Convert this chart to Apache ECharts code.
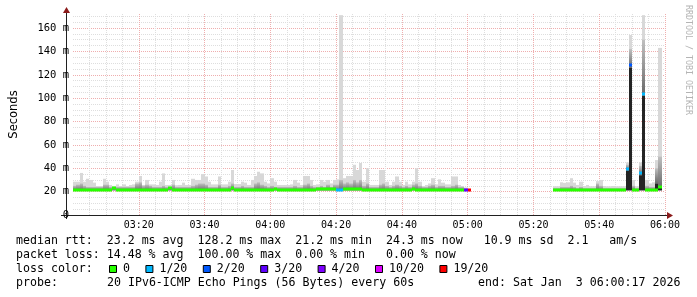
<!DOCTYPE html>
<html><head><meta charset="utf-8">
<script src="https://cdn.jsdelivr.net/npm/echarts@6/dist/echarts.min.js"></script>
<style>html,body{margin:0;padding:0;background:#fff}#c{width:697px;height:297px}</style>
</head><body><div id="c"></div>
<script>
// time of step index 0, in minutes since midnight (03:00); one step = 1 minute
const stepStart = 180;
const xTickLabels = ['03:00','03:20','03:40','04:00','04:20','04:40','05:00','05:20','05:40','06:00'];
const yTickLabels = ['0','20 m','40 m','60 m','80 m','100 m','120 m','140 m','160 m'];

// median rtt (ms) per minute
const median = [
21.8,21.8,21.8,21.8,21.8,21.8,21.8,21.8,21.8,21.8,21.8,21.8,22.8,21.8,21.8,21.8,21.8,21.8,21.8,21.8,
21.8,21.8,21.2,21.2,21.2,21.8,21.8,21.8,21.8,22.8,21.8,21.8,21.8,21.8,21.8,21.8,21.8,21.8,21.8,21.8,
21.8,21.8,21.8,21.8,21.2,21.8,21.8,21.8,22.8,21.8,21.8,21.8,21.2,21.8,21.8,21.8,21.8,21.8,21.8,21.8,
21.8,22.6,21.2,21.2,21.8,21.8,21.8,21.8,21.8,21.8,21.8,21.2,21.2,21.8,22.6,22.6,22.6,22.6,22.6,22.6,
21.4,21.4,22.6,22.6,22.6,22.6,22.6,22.6,21.8,21.8,21.8,21.8,21.8,21.8,21.8,21.8,21.8,21.8,21.8,21.8,
21.8,21.8,21.8,22.6,21.8,21.8,21.8,21.8,21.8,21.8,21.8,21.8,21.8,21.8,21.8,21.8,21.8,21.8,21.8,21.8,
21.8,null,null,null,null,null,null,null,null,null,null,null,null,null,null,null,null,null,null,null,
null,null,null,null,null,null,21.8,21.8,21.8,21.8,21.8,21.8,21.8,21.8,21.8,21.8,21.8,21.8,21.8,21.8,
21.8,21.8,21.8,21.8,21.8,21.8,21.8,21.8,39,128.2,21.8,21.8,36,103.5,21.8,21.8,21.2,21.2,24.3,null
];
// lost pings out of 20 per minute
const loss = [
0,0,0,0,0,0,0,0,0,0,0,0,0,0,0,0,0,0,0,0,
0,0,0,0,0,0,0,0,0,0,0,0,0,0,0,0,0,0,0,0,
0,0,0,0,0,0,0,0,0,0,0,0,0,0,0,0,0,0,0,0,
0,0,0,0,0,0,0,0,0,0,0,0,0,0,0,0,0,0,0,0,
1,1,0,0,0,0,0,0,0,0,0,0,0,0,0,0,0,0,0,0,
0,0,0,0,0,0,0,0,0,0,0,0,0,0,0,0,0,0,0,3,
19,null,null,null,null,null,null,null,null,null,null,null,null,null,null,null,null,null,null,null,
null,null,null,null,null,null,0,0,0,0,0,0,0,0,0,0,0,0,0,0,
0,0,0,0,0,0,0,0,1,2,0,0,1,1,0,0,0,0,0,null
];
// smoke: lowest ping (ms)
const smokeLow = [
21,21,21,21,21,21,21,21,21,21,21,21,21,21,21,21,21,21,21,21,
21,21,21,21,21,21,21,21,21,21,21,21,21,21,21,21,21,21,21,21,
21,21,21,21,21,21,21,21,21,21,21,21,21,21,21,21,21,21,21,21,
21,21,21,21,21,21,21,21,21,21,21,21,21,21,21,21,21,21,21,21,
21,21,21,21,21,21,21,21,21,21,21,21,21,21,21,21,21,21,21,21,
21,21,21,21,21,21,21,21,21,21,21,21,21,21,21,21,21,21,21,21,
null,null,null,null,null,null,null,null,null,null,null,null,null,null,null,null,null,null,null,null,
null,null,null,null,null,null,21,21,21,21,21,21,21,21,21,21,21,21,21,21,
21,21,21,21,21,21,21,21,21,21,21,21,21,21,21,21,21,21,21,null
];
// smoke: top of the dense (black) core (ms)
const smokeDark = [
null,null,null,null,null,null,null,null,null,null,null,null,null,null,null,null,null,null,null,null,
null,null,null,null,null,null,null,null,null,null,null,null,null,null,null,null,null,null,null,null,
null,null,null,null,null,null,null,null,null,null,null,null,null,null,null,null,null,null,null,null,
null,null,null,null,null,null,null,null,null,null,null,null,null,null,null,null,null,null,null,null,
null,null,null,null,null,null,null,null,null,null,null,null,null,null,null,null,null,null,null,null,
null,null,null,null,null,null,null,null,null,null,null,null,null,null,null,null,null,null,null,null,
null,null,null,null,null,null,null,null,null,null,null,null,null,null,null,null,null,null,null,null,
null,null,null,null,null,null,null,null,null,null,null,null,null,null,null,null,null,null,null,null,
null,null,null,null,null,null,null,null,38,126,null,null,34,102,null,null,null,27,23.5,null
];
// smoke: top of the medium grey band (ms)
const smokeMid = [
25,26,27,25,24,24,24,24,24,26,26,24,24,24,24,24,24,24,24,27,
28,25,26,25,24,24,24,25,24,24,26,24,24,24,24,24,25,26,27,27,
26,24,24,24,26,24,24,25,27,24,24,25,24,24,24,27,28,26,25,24,
25,24,24,24,24,24,24,25,24,24,26,27,25,24,24,25,24,26,24,26,
26,30,27,28,27,30,28,30,25,27,24,24,24,26,27,25,24,25,26,25,
24,25,24,26,27,25,24,24,25,26,24,25,25,24,24,25,26,24,24,23,
null,null,null,null,null,null,null,null,null,null,null,null,null,null,null,null,null,null,null,null,
null,null,null,null,null,null,23,23,24,24,24,25,24,23,24,23,23,23,23,27,
25,23,23,23,23,23,23,23,43,142,25,23,42,150,25,24,24,40,50,null
];
// smoke: highest ping (ms)
const smokeTop = [
28.5,28.5,36,28.5,31,30,27.7,24.8,24.8,31,28.5,25.7,24.8,26.2,24.8,26.2,24.8,25.7,26.2,28.5,
33.4,25.7,30,26.2,26.2,25.7,28.5,35.6,25.7,25.7,30,25.5,25.7,27.7,25.7,25.7,31,30,30,35,
33,28.5,26.2,26.2,33,26.2,26.2,28.5,38.5,26.5,26.5,28.5,27.7,25.7,30,33.4,37,35.6,28.5,27,
31.5,28.5,25.7,25.7,25.7,25.7,26.2,30,27.7,25.7,33.4,33.4,30,25.7,26.2,30,28.5,30,27,30,
30.5,171,31.5,33.4,33.4,43,38.5,44.5,28.5,40,25.7,25.7,25.7,38.5,38.5,28.5,25.7,28.5,33,28.5,
25.7,28.5,26.2,28.5,40,28.5,24.8,25.7,27,31.5,26.2,30.5,27.7,26.2,26.2,33,33,25.7,24.8,23.5,
null,null,null,null,null,null,null,null,null,null,null,null,null,null,null,null,null,null,null,null,
null,null,null,null,null,null,24.6,24.6,28,27.5,28,31.5,27.7,25.7,28.5,24.8,25.7,24.6,24.6,29,
30,24.8,24.6,24.6,24.8,24.6,24.6,24.6,45,154,30,24.6,45,171,30,27,28,47,143,null
];

const lossLevels = [0,1,2,3,4,10,19];
const lossLabels = ['0','1/20','2/20','3/20','4/20','10/20','19/20'];
const lossColors = ['#26ff00','#00b8ff','#0059ff','#5e00ff','#7e00ff','#dd00ff','#ff0000'];
const statsRows = [
  'median rtt:  23.2 ms avg  128.2 ms max  21.2 ms min  24.3 ms now   10.9 ms sd  2.1   am/s',
  'packet loss: 14.48 % avg  100.00 % max  0.00 % min   0.00 % now'
];
const lossTitle = 'loss color:';
const probeTitle = 'probe:';
const probeText = '20 IPv6-ICMP Echo Pings (56 Bytes) every 60s';
const endText = 'end: Sat Jan  3 06:00:17 2026';
const watermark = 'RRDTOOL / TOBI OETIKER';

function lossColor(n) {
  let c = lossColors[0];
  for (let k = 0; k < lossLevels.length; k++) if (n >= lossLevels[k]) c = lossColors[k];
  return c;
}

const MONO = 'DejaVu Sans Mono';
const chart = echarts.init(document.getElementById('c'), null, {renderer: 'canvas'});

const seriesData = [];
median.forEach((m, i) => { if (m != null) seriesData.push([stepStart + i, i, m]); });

function renderItem(params, api) {
  const t = api.value(0), i = api.value(1);
  const xL = Math.round(api.coord([t, 0])[0]);
  const xR = Math.round(api.coord([t + 1, 0])[0]);
  const w = xR - xL;
  const yOf = v => api.coord([t, v])[1];
  const kids = [];
  const lo = smokeLow[i];
  if (smokeTop[i] != null && lo != null) {
    kids.push({type: 'rect', shape: {x: xL, y: yOf(smokeTop[i]), width: w, height: yOf(lo) - yOf(smokeTop[i])},
      style: {fill: '#d8d8d8'}});
  }
  if (smokeMid[i] != null && lo != null) {
    const base = smokeDark[i] != null ? smokeDark[i] : lo;
    kids.push({type: 'rect', shape: {x: xL, y: yOf(smokeMid[i]), width: w, height: yOf(base) - yOf(smokeMid[i])},
      style: {fill: new echarts.graphic.LinearGradient(0, 0, 0, 1, [
        {offset: 0, color: '#c0c0c0'}, {offset: 1, color: '#686868'}])}});
  }
  if (smokeDark[i] != null && lo != null) {
    kids.push({type: 'rect', shape: {x: xL, y: yOf(smokeDark[i]), width: w, height: yOf(lo) - yOf(smokeDark[i])},
      style: {fill: '#242424'}});
  }
  const ym = yOf(median[i]);
  kids.push({type: 'rect', shape: {x: xL, y: Math.round(ym) - 1.5, width: w, height: 3},
    style: {fill: lossColor(loss[i])}});
  return {type: 'group', children: kids};
}

// legend graphics
const gfx = [];
const rowY = [241, 255, 269, 283];
const txt = (s, x, y) => ({type: 'text', x: x, y: y,
  style: {text: s, font: '11.6px ' + MONO, fill: '#000', align: 'left', verticalAlign: 'middle', textAlign: 'left', textVerticalAlign: 'middle'}});
statsRows.forEach((s, r) => gfx.push(txt(s, 16, rowY[r])));
gfx.push(txt(lossTitle, 16, rowY[2]));
let lx = 123;
lossLabels.forEach((lab, k) => {
  gfx.push({type: 'rect', shape: {x: lx - 13.5, y: rowY[2] - 3.5, width: 7, height: 7},
    style: {fill: lossColors[k], stroke: '#000', lineWidth: 1}});
  gfx.push(txt(lab, lx, rowY[2]));
  lx += (lab.length + 4.2) * 7;
});
gfx.push(txt(probeTitle, 16, rowY[3]));
gfx.push(txt(probeText, 107, rowY[3]));
gfx.push(txt(endText, 478, rowY[3]));
gfx.push({type: 'text', x: 688, y: 5, rotation: -Math.PI / 2,
  style: {text: watermark, font: '8.3px ' + MONO, fill: '#b4b4b4', align: 'left', verticalAlign: 'middle', textAlign: 'left', textVerticalAlign: 'middle'}});
// axis lines and arrows
gfx.push({type: 'line', shape: {x1: 61, y1: 215.5, x2: 668, y2: 215.5}, style: {stroke: '#202020', lineWidth: 1}});
gfx.push({type: 'line', shape: {x1: 66.5, y1: 219, x2: 66.5, y2: 11}, style: {stroke: '#202020', lineWidth: 1}});
gfx.push({type: 'polygon', shape: {points: [[667, 212], [667, 219], [673, 215.5]]}, style: {fill: '#8b1a1a'}});
gfx.push({type: 'polygon', shape: {points: [[63, 13], [70, 13], [66.5, 7]]}, style: {fill: '#8b1a1a'}});

const option = {
  animation: false,
  backgroundColor: '#fff',
  grid: {left: 65, top: 14, width: 600, height: 201, containLabel: false},
  xAxis: {
    type: 'value', min: stepStart, max: stepStart + 180, interval: 20,
    axisLine: {show: false},
    axisTick: {show: false},
    axisLabel: {showMinLabel: false, margin: 5, fontFamily: MONO, fontSize: 10, color: '#000',
      formatter: v => xTickLabels[Math.round((v - stepStart) / 20)]},
    splitLine: {show: true, showMinLine: false, lineStyle: {color: '#efaeae', width: 1, type: [1, 1]}},
    minorTick: {show: false, splitNumber: 4},
    minorSplitLine: {show: true, lineStyle: {color: '#dedede', width: 1, type: [1, 1]}}
  },
  yAxis: {
    type: 'value', min: 0, max: 172, interval: 20,
    name: 'Seconds', nameLocation: 'middle', nameRotate: 90, nameGap: 53,
    nameTextStyle: {fontFamily: 'DejaVu Sans', fontSize: 11.5, color: '#000'},
    axisLine: {show: false},
    axisTick: {show: false},
    axisLabel: {showMaxLabel: false, margin: 4, fontFamily: MONO, fontSize: 10.5, color: '#000',
      formatter: v => yTickLabels[Math.round(v / 20)]},
    splitLine: {show: true, showMinLine: false, showMaxLine: false, lineStyle: {color: '#efaeae', width: 1, type: [1, 1]}},
    minorTick: {show: false, splitNumber: 4},
    minorSplitLine: {show: true, lineStyle: {color: '#dedede', width: 1, type: [1, 1]}}
  },
  series: [{
    type: 'custom', renderItem: renderItem, clip: true,
    encode: {x: 0, y: 2},
    data: seriesData
  }],
  graphic: gfx
};
chart.setOption(option);
</script>
</body></html>
